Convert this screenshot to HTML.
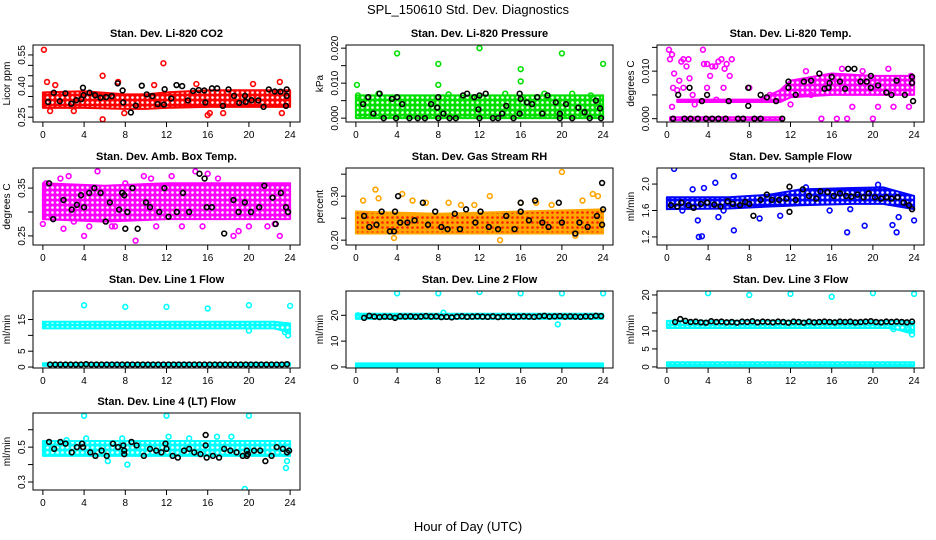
<!DOCTYPE html>
<html><head><meta charset="utf-8"><style>
body{margin:0;background:#fff}
svg{display:block;font-family:"Liberation Sans",sans-serif}
</style></head><body>
<svg id="chart" width="936" height="540" xmlns="http://www.w3.org/2000/svg">
<defs id="defs"></defs>
<text x="468" y="14" font-size="13" text-anchor="middle">SPL_150610  Std. Dev. Diagnostics</text>
<text x="468" y="531" font-size="13" text-anchor="middle">Hour of Day (UTC)</text>
</svg>
<script>
// ---- Panel 1: CO2 ----
const co2Ticks=[0.25,0.30,0.35,0.40,0.45,0.50,0.55];
const co2TickLabels=['0.25','','','0.40','','','0.55'];
const co2BandX=[0,4,8,10,12,16,20,24];
const co2BandLo=[0.295,0.295,0.29,0.29,0.295,0.30,0.30,0.30];
const co2BandHi=[0.37,0.375,0.36,0.36,0.37,0.38,0.38,0.38];
const co2PtsX=[0.1,11.7,5.8,5.8,7.3,0.4,23,16,17.5,7.9,0.7,3,16.2,20.4,23.2,1.2,10.8,14.9];
const co2PtsY=[0.575,0.51,0.45,0.24,0.42,0.42,0.42,0.26,0.27,0.27,0.28,0.28,0.27,0.41,0.27,0.405,0.405,0.41];
const co2BlkX=[0.51,1.06,1.64,2.18,2.76,3.24,3.73,3.89,3.95,4.53,5.07,5.59,6.13,6.68,7.26,7.74,7.8,8.54,9.02,9.6,10.08,10.63,11.14,11.75,11.82,12.46,12.97,13.52,14.07,14.58,15.13,15.67,15.77,16.41,16.92,17.47,18.02,18.56,19.07,19.62,19.69,20.26,20.91,21.42,21.93,22.51,23.06,23.6,23.67,23.67];
const co2BlkY=[0.324,0.368,0.327,0.365,0.315,0.332,0.337,0.392,0.356,0.368,0.356,0.344,0.347,0.352,0.413,0.379,0.321,0.273,0.306,0.402,0.36,0.352,0.313,0.311,0.385,0.34,0.405,0.4,0.331,0.377,0.381,0.379,0.321,0.389,0.389,0.305,0.384,0.353,0.319,0.353,0.324,0.332,0.331,0.3,0.384,0.374,0.373,0.305,0.384,0.353];
// ---- Panel 2: Pressure ----
const prTicks=[0,0.005,0.010,0.015,0.020];
const prTickLabels=['0.000','','0.010','','0.020'];
const prBandX=[0,24];
const prBandLo=[0,0];
const prBandHi=[0.0065,0.0065];
const prPtsX=[0.1,4,8,8,12,16,16,20,24,21,0.2,2.2,9,14.5,18.3,22.8];
const prPtsY=[0.0095,0.0185,0.0155,0.0095,0.020,0.014,0.0105,0.0185,0.0155,0.007,0.0065,0.007,0.0068,0.007,0.007,0.0065];
const prBlkX=[1.2,0.7,1.7,2.3,2.7,3.5,3.9,4.0,4.5,5.2,6,6.7,7.3,7.9,8,8,8.5,9.1,9.7,10.4,10.8,11.5,11.9,12,12,12.6,13.3,13.8,14.2,14.6,15.3,15.9,15.9,16,16.6,17.1,17.6,18.1,18.6,19.4,19.8,19.8,20.4,21,21.6,22.2,22.7,23.3,23.7,23.8];
const prBlkY=[0.006,0.004,0.0013,0.007,0,0.0055,0,0.006,0.004,0,0,0,0.004,0.003,0.006,0,0.0013,0,0,0.0065,0.007,0.006,0.0025,0.0065,0,0.007,0,0,0.0013,0.0035,0,0.007,0.0013,0.0055,0.0045,0.004,0.006,0.0013,0.0065,0.0045,0.0013,0,0.004,0,0.003,0.0017,0,0.005,0.0028,0];
// ---- Panel 3: Li-820 Temp ----
const tmTicks=[0,0.005,0.010,0.015];
const tmTickLabels=['0.000','','0.010',''];
const tmBandX=[1,9,11,12,16,20,24];
const tmBandLo=[0.0035,0.0035,0.0035,0.0045,0.005,0.005,0.005];
const tmBandHi=[0.0040,0.0040,0.0060,0.0080,0.0095,0.0090,0.0090];
const tmBand2X=[0.3,11.2];
const tmBand2Lo=[-0.0003,-0.0003];
const tmBand2Hi=[0.0003,0.0003];
const tmPtsX=[0.2,0.3,0.5,0.7,1.0,1.2,1.4,1.6,1.9,2.1,2.2,2.5,3.5,3.6,3.9,4.2,4.4,4.7,5.0,5.3,5.6,5.8,6.1,6.3,0.6,0.5,1.6,3.9,4.8,5.5,2.7,15,16.5,17.5,20,13.5,17,19,21.5,23.7,12,14,18,20.5,22,23.5,8,10];
const tmPtsY=[0.0145,0.0125,0.0135,0.0095,0.006,0.008,0.012,0.0125,0.011,0.0125,0.0085,0.005,0.0145,0.0115,0.0115,0.009,0.011,0.011,0.012,0.0125,0.0105,0.0115,0.009,0.0125,0.0065,0.0025,0.0065,0.0065,0.004,0.0065,0.003,0,0,0,0,0.010,0.0105,0.010,0.0105,0.009,0.003,0.005,0.0025,0.0025,0.0025,0.0025,0.0065,0.005];
const tmBlkX=[1.1,2.2,3.4,3.9,6,7.9,7.9,9.1,9.7,10.6,11.8,11.8,12.5,13.3,14,14.8,15.3,15.7,15.8,16,16.8,17.3,17.6,18.2,18.8,19.4,19.8,19.8,20.5,21.3,21.8,22.3,23.1,23.8,23.8,23.9,0.6,1.7,2.3,3,3.8,4.4,5,5.7,6.9,7.4,8.5,9.1,11.2];
const tmBlkY=[0.005,0.0065,0.0037,0.005,0.0037,0.0065,0.0027,0.005,0.0045,0.0037,0.0078,0.0065,0.005,0.0078,0.008,0.0095,0.0063,0.0065,0.0075,0.0088,0.0078,0.0063,0.0105,0.0105,0.0078,0.0078,0.009,0.0065,0.007,0.0055,0.005,0.008,0.005,0.0088,0.0075,0.0037,0,0,0,0,0,0,0,0,0,0,0,0,0];
// ---- Panel 4: Amb Box Temp ----
const abTicks=[0.25,0.30,0.35];
const abTickLabels=['0.25','','0.35'];
const abBandX=[0,6,12,18,24];
const abBandLo=[0.285,0.28,0.285,0.285,0.285];
const abBandHi=[0.36,0.355,0.36,0.36,0.36];
const abPtsX=[0,0.3,2,4,5.3,8,9.0,14.8,16,18.5,20,23,12.5,7,11,1.7,3,6.7,10.5,19,21.8,2.5,4.5,13.5,17,22.5,15.5,9.8];
const abPtsY=[0.275,0.36,0.265,0.25,0.385,0.36,0.24,0.385,0.38,0.25,0.27,0.25,0.375,0.27,0.27,0.37,0.28,0.27,0.37,0.26,0.27,0.375,0.27,0.27,0.37,0.275,0.27,0.375];
const abBlkX=[0.6,1.0,2.0,2.8,3.3,3.7,4.0,4.5,5.0,5.6,6.1,6.5,7.4,7.7,7.9,8.0,8.2,8.7,9.2,10.0,10.4,11.3,11.8,12.2,13.0,13.6,14.2,15.2,15.7,15.9,16.4,17.6,18.5,19.0,19.6,20.2,21.0,21.5,22.3,22.6,23.1,23.6,23.8];
const abBlkY=[0.36,0.285,0.325,0.305,0.315,0.335,0.31,0.34,0.35,0.34,0.28,0.32,0.305,0.34,0.335,0.265,0.30,0.35,0.265,0.32,0.31,0.30,0.35,0.29,0.30,0.34,0.30,0.38,0.37,0.31,0.31,0.255,0.325,0.30,0.32,0.30,0.31,0.355,0.33,0.275,0.34,0.31,0.30];
// ---- Panel 5: Gas Stream RH ----
const rhTicks=[0.20,0.25,0.30,0.35];
const rhTickLabels=['0.20','','0.30',''];
const rhBandX=[0,8,16,24];
const rhBandLo=[0.215,0.215,0.215,0.215];
const rhBandHi=[0.265,0.26,0.265,0.27];
const rhPtsX=[1.9,4.5,0.7,20,19,23,14,13,3.7,21.3,16,22,23.5,2.2,5.5,9,11.5,17.5,6.8,10.2];
const rhPtsY=[0.315,0.305,0.29,0.355,0.28,0.305,0.2,0.30,0.205,0.21,0.285,0.29,0.3,0.295,0.29,0.285,0.28,0.285,0.285,0.28];
const rhBlkX=[0.8,1.3,2.0,2.5,3.3,3.7,3.8,4.1,4.3,5.0,5.7,6.5,7.0,7.7,8.3,8.9,9.6,10.1,10.7,11.6,12.1,12.9,13.8,14.6,15.4,16.0,16.0,16.8,17.4,18.1,18.7,19.7,20.0,21.3,21.7,22.5,23.4,23.9,23.9,24];
const rhBlkY=[0.255,0.23,0.235,0.265,0.22,0.22,0.265,0.3,0.24,0.24,0.245,0.285,0.235,0.265,0.23,0.225,0.26,0.225,0.27,0.24,0.265,0.23,0.225,0.255,0.225,0.265,0.285,0.245,0.29,0.24,0.23,0.285,0.24,0.215,0.24,0.23,0.255,0.235,0.33,0.27];
// ---- Panel 6: Sample Flow ----
const sfTicks=[1.2,1.6,2.0];
const sfTickLabels=['1.2','1.6','2.0'];
const sfBandX=[0,6,10,13,18,21,24];
const sfBandLo=[1.62,1.63,1.66,1.68,1.70,1.70,1.62];
const sfBandHi=[1.80,1.80,1.84,1.92,1.94,1.95,1.82];
const sfPtsX=[0.7,3.1,3.4,3,6.5,4.7,3.6,6.5,5.5,9,11,17.5,17.8,19.2,21.9,22.3,24,22.5,2.5,5,1.5,13.5,20.5,15.8];
const sfPtsY=[2.23,1.2,1.21,1.45,2.12,2.02,1.94,1.3,1.6,1.48,1.52,1.27,1.62,1.37,1.38,1.27,1.45,1.5,1.92,1.5,1.6,1.95,1.99,1.6];
const sfBlkX=[0.4,1,1.4,2.1,2.6,3.3,3.9,4.6,5.2,5.9,6.4,7.1,7.6,8.0,8.4,9.1,9.7,10.2,10.9,11.6,11.9,11.9,12.5,13.2,13.8,14.5,14.9,15.6,16.2,16.8,17.4,17.9,18.5,19.1,19.6,20.2,20.8,21.3,21.8,22.4,23.0,23.5,23.8];
const sfBlkY=[1.68,1.66,1.72,1.68,1.64,1.7,1.72,1.69,1.66,1.74,1.7,1.68,1.73,1.7,1.52,1.76,1.84,1.76,1.76,1.78,1.58,1.96,1.76,1.92,1.82,1.78,1.89,1.88,1.82,1.86,1.82,1.81,1.84,1.8,1.86,1.8,1.78,1.8,1.78,1.8,1.72,1.68,1.62];
// ---- Panel 7: Line 1 Flow ----
const l1Ticks=[0,5,10,15];
const l1TickLabels=['0','5','','15'];
const l1BandX=[0,22.5,23.3,24];
const l1BandLo=[12.2,12.2,11.5,10.5];
const l1BandHi=[14.3,14.3,14,13.8];
const l1Band2X=[0,24];
const l1Band2Lo=[0.4,0.4];
const l1Band2Hi=[1.2,1.2];
const l1PtsX=[4,8,12,16,20,24,23.8,23.5,20];
const l1PtsY=[19.5,19,19,18.5,19.5,19.3,10,11,11.5];
const l1BlkX=[0.7,1.2,1.7,2.2,2.7,3.2,3.7,4.2,4.7,5.2,5.7,6.2,6.7,7.2,7.7,8.2,8.7,9.2,9.7,10.2,10.7,11.2,11.7,12.2,12.7,13.2,13.7,14.2,14.7,15.2,15.7,16.2,16.7,17.2,17.7,18.2,18.7,19.2,19.7,20.2,20.7,21.2,21.7,22.2,22.7,23.2,23.7];
const l1BlkY=[0.8,0.8,0.8,0.8,0.8,0.8,0.8,0.9,0.8,0.8,0.8,0.8,0.8,0.8,0.8,0.8,0.8,0.8,0.8,0.8,0.8,0.8,0.8,0.8,0.8,0.8,0.8,0.8,0.8,0.8,0.8,0.8,0.8,0.8,0.8,0.8,0.8,0.8,0.8,0.8,0.8,0.8,0.8,0.8,0.8,0.8,0.9];
// ---- Panel 8: Line 2 Flow ----
const l2Ticks=[0,10,20];
const l2TickLabels=['0','10','20'];
const l2BandX=[0,24];
const l2BandLo=[18.6,18.6];
const l2BandHi=[20.6,20.6];
const l2Band2X=[0,24];
const l2Band2Lo=[0,0];
const l2Band2Hi=[1.4,1.4];
const l2PtsX=[4,8,12,16,20,24,19.6,0.2,8.5];
const l2PtsY=[28.5,28.5,29,28.5,28.5,28.5,16.5,20,21];
const l2BlkX=[0.8,1.3,1.8,2.3,2.8,3.3,3.8,4.3,4.8,5.3,5.8,6.3,6.8,7.3,7.8,8.3,8.8,9.3,9.8,10.3,10.8,11.3,11.8,12.3,12.8,13.3,13.8,14.3,14.8,15.3,15.8,16.3,16.8,17.3,17.8,18.3,18.8,19.3,19.8,20.3,20.8,21.3,21.8,22.3,22.8,23.3,23.8];
const l2BlkY=[19,19.8,19.5,19.3,19.5,19.4,19,19.6,19.5,19.6,19.4,19.5,19.7,19.5,19.6,19.3,19.4,19.2,19.5,19.6,19.4,19.5,19.6,19.5,19.4,19.6,19.3,19.5,19.6,19.4,19.5,19.6,19.5,19.4,19.6,19.8,19.5,19.6,19.7,19.5,19.6,19.5,19.4,19.6,19.5,19.8,19.7];
// ---- Panel 9: Line 3 Flow ----
const l3Ticks=[0,5,10,15,20];
const l3TickLabels=['0','5','10','','20'];
const l3BandX=[0,21.5,22.5,23.5,24];
const l3BandLo=[10.8,10.8,10.3,9.5,9.5];
const l3BandHi=[12.8,12.8,12.7,12.5,12.5];
const l3Band2X=[0,24];
const l3Band2Lo=[0.2,0.2];
const l3Band2Hi=[1.3,1.3];
const l3PtsX=[4,8,12,16,20,24,23.8,23.5,22];
const l3PtsY=[20.5,20,20.3,19.5,20.5,20.3,9,10.5,10.5];
const l3BlkX=[0.8,1.3,1.8,2.3,2.8,3.3,3.8,4.3,4.8,5.3,5.8,6.3,6.8,7.3,7.8,8.3,8.8,9.3,9.8,10.3,10.8,11.3,11.8,12.3,12.8,13.3,13.8,14.3,14.8,15.3,15.8,16.3,16.8,17.3,17.8,18.3,18.8,19.3,19.8,20.3,20.8,21.3,21.8,22.3,22.8,23.3,23.8];
const l3BlkY=[12.5,13.3,12.8,12.5,12.6,12.4,12.3,12.7,12.5,12.6,12.4,12.5,12.3,12.6,12.5,12.7,12.4,12.6,12.5,12.4,12.6,12.5,12.3,12.6,12.5,12.3,12.6,12.4,12.5,12.6,12.5,12.4,12.6,12.5,12.6,12.4,12.5,12.6,12.7,12.5,12.4,12.6,12.5,12.6,12.5,12.4,12.6];
// ---- Panel 10: Line 4 (LT) Flow ----
const l4Ticks=[0.3,0.4,0.5,0.6];
const l4TickLabels=['0.3','','0.5',''];
const l4BandX=[0,24];
const l4BandLo=[0.45,0.45];
const l4BandHi=[0.535,0.535];
const l4PtsX=[4,12,20,19.6,8.2,23.6,12.2,16.9,18.3,6.3,23.7,4.2,7.7,14.2,2.3];
const l4PtsY=[0.68,0.68,0.68,0.26,0.40,0.38,0.56,0.56,0.56,0.42,0.42,0.55,0.55,0.55,0.54];
const l4BlkX=[0.6,1.1,1.7,2.2,2.8,3.3,3.8,3.9,4.6,5.1,5.7,6.2,6.8,7.3,7.8,7.9,7.9,8.6,9.1,9.8,10.4,11.0,11.5,11.9,12.0,12.6,13.1,13.7,14.2,14.7,15.3,15.8,15.8,15.9,16.5,17.1,17.6,18.2,18.8,19.4,19.8,19.8,19.9,20.5,21.1,21.6,22.2,22.7,23.3,23.7,23.9];
const l4BlkY=[0.53,0.49,0.53,0.52,0.47,0.5,0.52,0.5,0.47,0.45,0.48,0.45,0.52,0.5,0.51,0.46,0.48,0.53,0.51,0.45,0.49,0.48,0.47,0.52,0.49,0.45,0.44,0.48,0.49,0.47,0.46,0.57,0.51,0.44,0.45,0.44,0.49,0.48,0.47,0.45,0.48,0.45,0.46,0.48,0.48,0.42,0.45,0.5,0.49,0.47,0.48];

const xTicks=[0,4,8,12,16,20,24];
const NS='http://www.w3.org/2000/svg';
const svg=document.getElementById('chart');
const defs=document.getElementById('defs');
const colX=[33,346,657], rowY=[45,168,291,413], W=267, H=77;
function mk(tag,attrs,parent){const e=document.createElementNS(NS,tag);for(const k in attrs)e.setAttribute(k,attrs[k]);(parent||svg).appendChild(e);return e;}
function pattern(id,bg,dot){const p=mk('pattern',{id:id,width:5,height:5,patternUnits:'userSpaceOnUse'},defs);mk('rect',{width:5,height:5,fill:bg},p);mk('circle',{cx:2.5,cy:2.5,r:1.3,fill:dot},p);}
pattern('pr','#ff0000','#ffffff');pattern('pg','#00e000','#ffffff');pattern('pm','#ff00ff','#ffffff');
pattern('po','#ffa500','#ff2000');pattern('pb','#0000ff','#ffffff');pattern('pc','#00ffff','#ffffff');

const panels=[
 {t:'Stan. Dev. Li-820 CO2',yl:'Licor ppm',c:0,r:0,lim:[0.227,0.598],ticks:co2Ticks,tl:co2TickLabels,col:'#ff0000',pat:'pr',bands:[[co2BandX,co2BandLo,co2BandHi]],px:co2PtsX,py:co2PtsY,bx:co2BlkX,by:co2BlkY},
 {t:'Stan. Dev. Li-820 Pressure',yl:'kPa',c:1,r:0,lim:[-0.0011,0.0209],ticks:prTicks,tl:prTickLabels,col:'#00e000',pat:'pg',bands:[[prBandX,prBandLo,prBandHi]],px:prPtsX,py:prPtsY,bx:prBlkX,by:prBlkY},
 {t:'Stan. Dev. Li-820 Temp.',yl:'degrees C',c:2,r:0,lim:[-0.0007,0.0155],ticks:tmTicks,tl:tmTickLabels,col:'#ff00ff',pat:'pm',bands:[[tmBandX,tmBandLo,tmBandHi],[tmBand2X,tmBand2Lo,tmBand2Hi]],px:tmPtsX,py:tmPtsY,bx:tmBlkX,by:tmBlkY},
 {t:'Stan. Dev. Amb. Box Temp.',yl:'degrees C',c:0,r:1,lim:[0.231,0.392],ticks:abTicks,tl:abTickLabels,col:'#ff00ff',pat:'pm',bands:[[abBandX,abBandLo,abBandHi]],px:abPtsX,py:abPtsY,bx:abBlkX,by:abBlkY},
 {t:'Stan. Dev. Gas Stream RH',yl:'percent',c:1,r:1,lim:[0.189,0.364],ticks:rhTicks,tl:rhTickLabels,col:'#ffa500',pat:'po',bands:[[rhBandX,rhBandLo,rhBandHi]],px:rhPtsX,py:rhPtsY,bx:rhBlkX,by:rhBlkY},
 {t:'Stan. Dev. Sample Flow',yl:'ml/min',c:2,r:1,lim:[1.078,2.243],ticks:sfTicks,tl:sfTickLabels,col:'#0000ff',pat:'pb',bands:[[sfBandX,sfBandLo,sfBandHi]],px:sfPtsX,py:sfPtsY,bx:sfBlkX,by:sfBlkY},
 {t:'Stan. Dev. Line 1 Flow',yl:'ml/min',c:0,r:2,lim:[-0.3,24],ticks:l1Ticks,tl:l1TickLabels,col:'#00ffff',pat:'pc',bands:[[l1BandX,l1BandLo,l1BandHi],[l1Band2X,l1Band2Lo,l1Band2Hi]],px:l1PtsX,py:l1PtsY,bx:l1BlkX,by:l1BlkY},
 {t:'Stan. Dev. Line 2 Flow',yl:'ml/min',c:1,r:2,lim:[-0.4,29.4],ticks:l2Ticks,tl:l2TickLabels,col:'#00ffff',pat:'pc',bands:[[l2BandX,l2BandLo,l2BandHi],[l2Band2X,l2Band2Lo,l2Band2Hi]],px:l2PtsX,py:l2PtsY,bx:l2BlkX,by:l2BlkY},
 {t:'Stan. Dev. Line 3 Flow',yl:'ml/min',c:2,r:2,lim:[-0.3,21.1],ticks:l3Ticks,tl:l3TickLabels,col:'#00ffff',pat:'pc',bands:[[l3BandX,l3BandLo,l3BandHi],[l3Band2X,l3Band2Lo,l3Band2Hi]],px:l3PtsX,py:l3PtsY,bx:l3BlkX,by:l3BlkY},
 {t:'Stan. Dev. Line 4 (LT) Flow',yl:'ml/min',c:0,r:3,lim:[0.254,0.696],ticks:l4Ticks,tl:l4TickLabels,col:'#00ffff',pat:'pc',bands:[[l4BandX,l4BandLo,l4BandHi]],px:l4PtsX,py:l4PtsY,bx:l4BlkX,by:l4BlkY}
];

panels.forEach((p,i)=>{
 const L=colX[p.c],T=rowY[p.r];
 const xs=h=>L+(h+0.96)/25.92*W;
 const ys=v=>T+(p.lim[1]-v)/(p.lim[1]-p.lim[0])*H;
 const g=mk('g',{});
 
 
 const cp=mk('clipPath',{id:'cp'+i},defs);mk('rect',{x:L,y:T,width:W,height:H},cp);
 const tt=mk('text',{x:L+W/2,y:T-8,'font-size':11,'font-weight':'bold','text-anchor':'middle'},g);tt.textContent=p.t;
 
 
 const data=mk('g',{'clip-path':'url(#cp'+i+')'},g);
 p.bands.forEach(b=>{
  const [bx,lo,hi]=b;let pts=[];
  for(let k=0;k<bx.length;k++)pts.push(xs(bx[k])+','+ys(hi[k]));
  for(let k=bx.length-1;k>=0;k--)pts.push(xs(bx[k])+','+ys(lo[k]));
  const pg=mk('polygon',{points:pts.join(' '),fill:'url(#'+p.pat+')',stroke:p.col,'stroke-width':2,'stroke-linejoin':'round'},data);
  
  
 });
 p.px.forEach((x,k)=>{const c=mk('circle',{cx:xs(x),cy:ys(p.py[k]),r:2.4,fill:'none',stroke:p.col,'stroke-width':1.6},data);
  
  });
 p.bx.forEach((x,k)=>{const c=mk('circle',{cx:xs(x),cy:ys(p.by[k]),r:2.4,fill:'none',stroke:'#000','stroke-width':1.6},data);
  
  });
 const fr=mk('rect',{x:L,y:T,width:W,height:H,fill:'none',stroke:'#000','stroke-width':1},g);
 
 
 const B=T+H;
 mk('line',{x1:xs(0),x2:xs(24),y1:B,y2:B,stroke:'#000'},g);
 xTicks.forEach(h=>{mk('line',{x1:xs(h),x2:xs(h),y1:B,y2:B+5,stroke:'#000'},g);
  const t=mk('text',{x:xs(h),y:B+16,'font-size':10,'text-anchor':'middle'},g);t.textContent=h;
  
  });
 p.ticks.forEach((v,k)=>{const y=ys(v);mk('line',{x1:L-5,x2:L,y1:y,y2:y,stroke:'#000'},g);
  if(p.tl[k]){const t=mk('text',{x:L-8,y:y,'font-size':10,'text-anchor':'middle',transform:'rotate(-90 '+(L-8)+' '+y+')'},g);t.textContent=p.tl[k];
  
  }});
 const yt=mk('text',{x:L-23,y:T+H/2,'font-size':10,'text-anchor':'middle',transform:'rotate(-90 '+(L-23)+' '+(T+H/2)+')'},g);yt.textContent=p.yl;
 
 
});
</script>
</body></html>
